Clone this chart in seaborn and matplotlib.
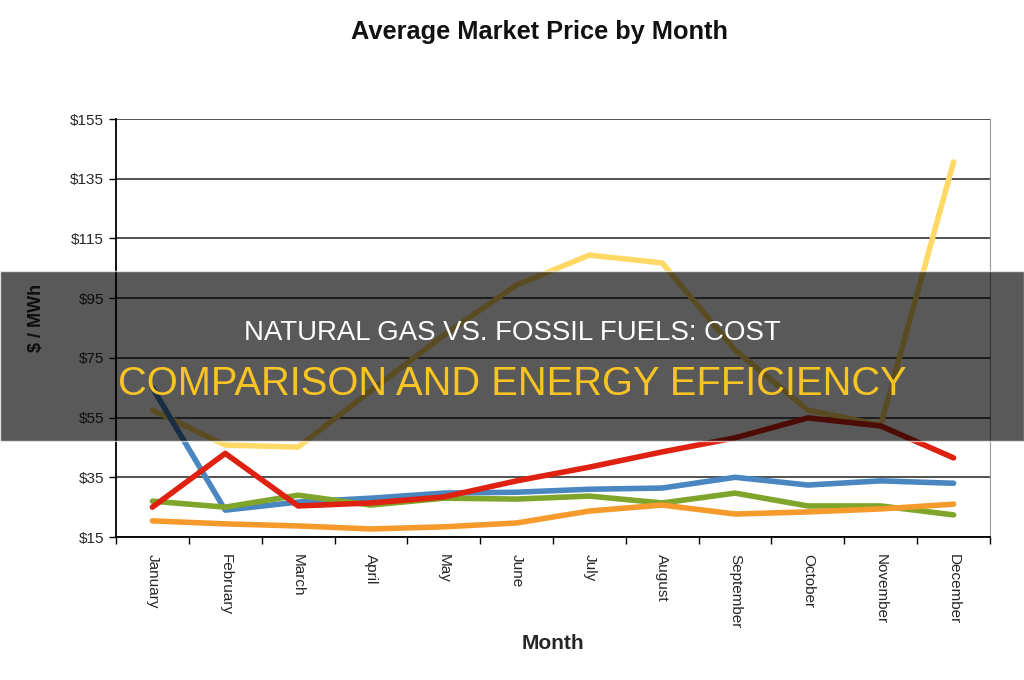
import pandas as pd
import seaborn as sns
import matplotlib.pyplot as plt
from matplotlib.patches import Rectangle
from matplotlib.ticker import FixedLocator

# Monthly prices ($ / MWh)
months = ['January', 'February', 'March', 'April', 'May', 'June', 'July',
          'August', 'September', 'October', 'November', 'December']
yellow_vals = [57.5, 45.8, 45.1, 64, 82.6, 99.4, 109.4, 106.8, 77.6, 57.5, 52.5, 140.6]
blue_vals = [65, 24, 26.7, 28, 29.7, 30, 31, 31.4, 35, 32.4, 33.8, 33]
green_vals = [27, 25, 29, 25.7, 28, 27.7, 28.7, 26.4, 29.7, 25.4, 25.4, 22.4]
orange_vals = [20.4, 19.4, 18.7, 17.7, 18.4, 19.7, 23.7, 25.7, 22.7, 23.4, 24.4, 26]
red_vals = [25, 43, 25.4, 26.4, 28.4, 33.8, 38.4, 43.5, 48.2, 54.9, 52.2, 41.5]

series = {'Yellow': yellow_vals, 'Blue': blue_vals, 'Green': green_vals,
          'Orange': orange_vals, 'Red': red_vals}
colors = {'Yellow': '#ffd965', 'Blue': '#4a86c0', 'Green': '#7fa52a',
          'Orange': '#f79a2c', 'Red': '#de2110'}

rows = []
for name, vals in series.items():
    for i, v in enumerate(vals):
        rows.append({'idx': i, 'price': v, 'series': name})
df = pd.DataFrame(rows)

sns.set_style('white')
plt.rcParams['font.family'] = ['Liberation Sans', 'DejaVu Sans']

fig = plt.figure(figsize=(10.24, 6.8), dpi=100)
ax = fig.add_axes([116 / 1024, 1 - 537 / 680, 874 / 1024, 418 / 680])

sns.lineplot(data=df, x='idx', y='price', hue='series', palette=colors,
             linewidth=4, legend=False, ax=ax)

ax.set_xlim(-0.5, 11.5)
ax.set_ylim(15, 155)
ax.set_yticks(range(15, 156, 20))
ax.set_yticklabels([f'${v}' for v in range(15, 156, 20)], fontsize=11)
ax.yaxis.grid(True, color='#333333', linewidth=1.2)
ax.set_axisbelow(True)
ax.tick_params(axis='y', length=5, width=1, direction='out', left=True, color='black')

ax.set_xticks(range(12))
ax.set_xticklabels(months, rotation=270, fontsize=11)
ax.tick_params(axis='x', which='major', length=0, pad=12)
ax.xaxis.set_minor_locator(FixedLocator([i - 0.5 for i in range(13)]))
ax.tick_params(axis='x', which='minor', length=5, width=1, bottom=True, color='black')

for side in ['left', 'bottom']:
    ax.spines[side].set_color('black')
    ax.spines[side].set_linewidth(1.3)
ax.spines['right'].set_color('#999999')
ax.spines['top'].set_visible(False)

ax.set_xlabel('Month', fontsize=15, fontweight='bold', labelpad=4)
ax.set_ylabel('$ / MWh', fontsize=13, fontweight='bold')
ax.yaxis.set_label_coords(-0.081, 0.525)
fig.text(0.527, 0.953, 'Average Market Price by Month', ha='center', va='center',
         fontsize=18.3, fontweight='bold', color='#111111')

# dark banner with headline across the middle
fig.patches.append(Rectangle((0, 1 - 441 / 680), 1, 170 / 680, transform=fig.transFigure,
                             facecolor='black', alpha=0.65, zorder=10))
fig.text(0.5, 1 - 333 / 680, 'NATURAL GAS VS. FOSSIL FUELS: COST', ha='center',
         va='center', fontsize=19.9, color='white', zorder=11)
fig.text(0.5, 1 - 384 / 680, 'COMPARISON AND ENERGY EFFICIENCY', ha='center',
         va='center', fontsize=28.7, color='#f7c325', zorder=11)

fig.savefig('out.png', dpi=100)
